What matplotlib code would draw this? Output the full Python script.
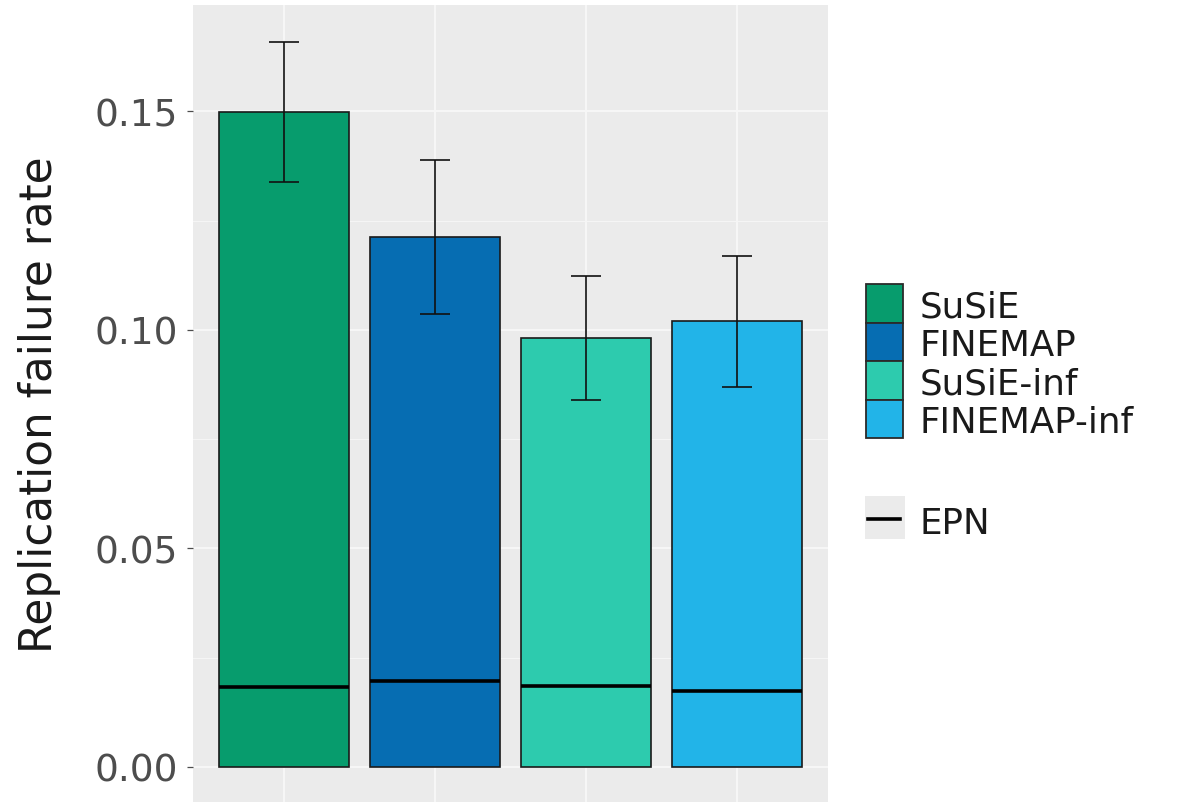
import matplotlib
matplotlib.use("Agg")
import matplotlib.pyplot as plt
from matplotlib.patches import Rectangle
from matplotlib.lines import Line2D
import numpy as np

# ---- data ----
methods = ["SuSiE", "FINEMAP", "SuSiE-inf", "FINEMAP-inf"]
failure_rate = [0.1498, 0.1213, 0.0981, 0.1020]
ci_low = [0.1338, 0.1037, 0.0840, 0.0870]
ci_high = [0.1659, 0.1389, 0.1124, 0.1170]
epn = [0.0182, 0.0197, 0.0186, 0.0173]
yticks = [0.00, 0.05, 0.10, 0.15]
ytick_labels = ["0.00", "0.05", "0.10", "0.15"]
colors = ["#079C6D", "#066DB2", "#2DCBAE", "#22B4E8"]

W, H = 1184, 803
fig = plt.figure(figsize=(W / 100, H / 100), dpi=100)
fig.patch.set_facecolor("white")


def fx(px):
    return px / W


def fy(py):
    return 1 - py / H


# panel in pixel coords
p_left, p_right, p_top, p_bottom = 193, 828, 6, 804
ax = fig.add_axes([fx(p_left), fy(p_bottom), fx(p_right - p_left), (p_bottom - p_top) / H])
ax.set_facecolor("#EBEBEB")

x = np.arange(1, len(methods) + 1)
bar_w = 0.86
ax.bar(x, failure_rate, width=bar_w, color=colors, edgecolor="#1a1a1a",
       linewidth=1.2, zorder=3)

# EPN reference segment inside each bar
ax.hlines(epn, x - bar_w / 2, x + bar_w / 2, colors="black", linewidth=2.6, zorder=4)

# error bars
yerr = np.array([np.array(failure_rate) - np.array(ci_low),
                 np.array(ci_high) - np.array(failure_rate)])
ax.errorbar(x, failure_rate, yerr=yerr, fmt="none", ecolor="#111111",
            elinewidth=1.2, capsize=10.8, capthick=1.2, zorder=5)

ax.set_xlim(0.4, 4.6)
ax.set_ylim(-0.00824, 0.17437)

# grid: major + minor in ggplot style
ax.set_yticks(yticks)
ax.set_yticklabels(ytick_labels)
ax.set_yticks([0.025, 0.075, 0.125], minor=True)
ax.set_xticks(x)
ax.set_xticklabels([])
ax.grid(which="major", color="#F7F7F7", linewidth=1.4, zorder=0)
ax.grid(which="minor", axis="y", color="#F5F5F5", linewidth=0.8, zorder=0)
ax.set_axisbelow(True)
ax.tick_params(axis="y", which="major", length=4.3, width=0.9, color="#4D4D4D",
               labelcolor="#4D4D4D", labelsize=27, pad=6.5)
ax.tick_params(axis="y", which="minor", length=0)
ax.tick_params(axis="x", length=0)
for s in ax.spines.values():
    s.set_visible(False)

fig.text(fx(40), fy(405), "Replication failure rate", rotation=90,
         ha="center", va="center", fontsize=31.5, color="#1a1a1a")

# ---- legend ----
key_l, key_r = 866, 903
key_top, key_h = 285, 38.5
for i, (name, c) in enumerate(zip(methods, colors)):
    t = key_top + i * key_h
    fig.add_artist(Rectangle((fx(key_l), fy(t + key_h)), fx(key_r - key_l), key_h / H,
                             transform=fig.transFigure, facecolor=c,
                             edgecolor="#2a2a2a", linewidth=1.3))
    fig.text(fx(920), fy(t + key_h / 2), name, ha="left", va="center_baseline",
             fontsize=25.7, color="#1a1a1a")

# EPN key
fig.add_artist(Rectangle((fx(865), fy(540)), fx(40), 43 / H, transform=fig.transFigure,
                         facecolor="#EBEBEB", edgecolor="none"))
fig.add_artist(Line2D([fx(868), fx(900)], [fy(520), fy(520)], transform=fig.transFigure,
                      color="black", linewidth=2.6))
fig.text(fx(920), fy(520), "EPN", ha="left", va="center_baseline",
         fontsize=25.7, color="#1a1a1a")

fig.savefig("out.png", dpi=100)
